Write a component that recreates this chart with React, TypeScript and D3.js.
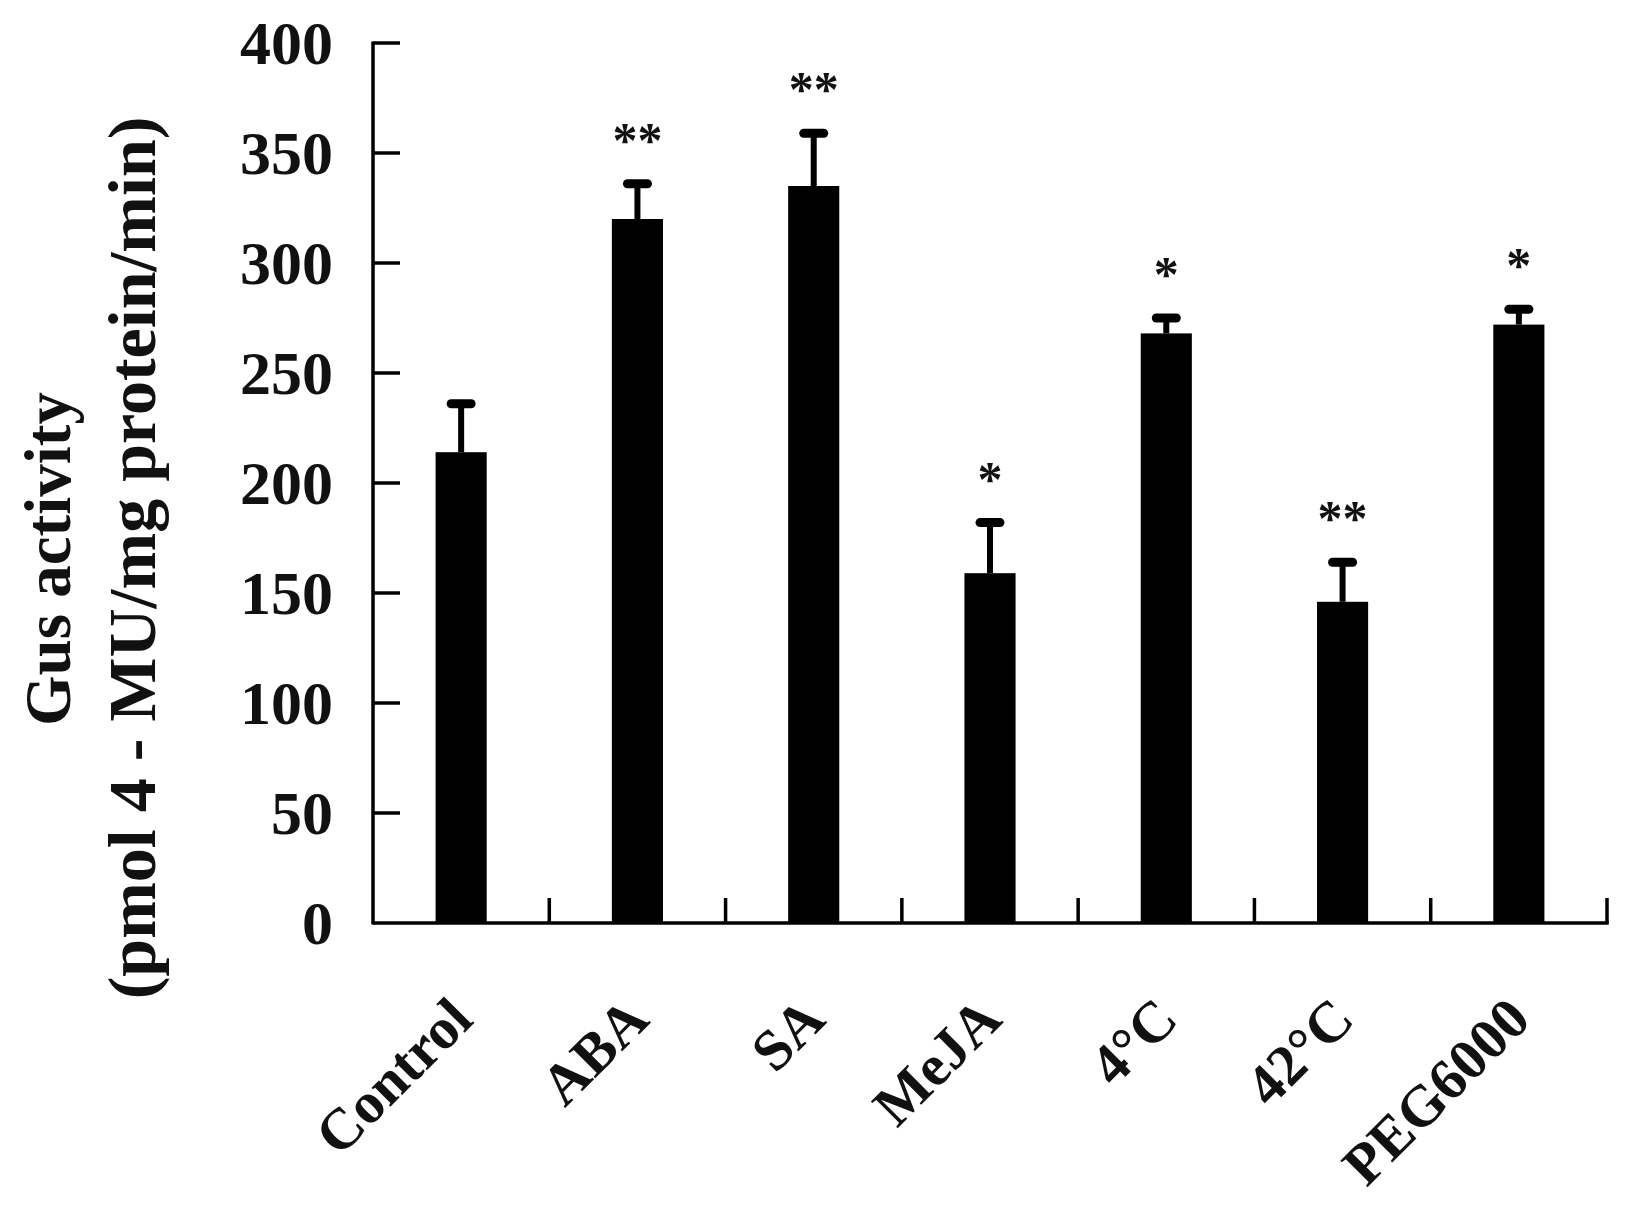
import React from 'react';
import * as d3 from 'd3';

const categories = ['Control', 'ABA', 'SA', 'MeJA', '4°C', '42°C', 'PEG6000'];
const means = [214, 320, 335, 159, 268, 146, 272];
const errors = [22, 16, 24, 23, 7, 18, 7];
const significance = ['', '**', '**', '*', '*', '**', '*'];
const yTicks = [0, 50, 100, 150, 200, 250, 300, 350, 400];
const yLabelLine1 = 'Gus activity';
const yLabelLine2 = '(pmol 4 - MU/mg protein/min)';

const FONT = '"Liberation Serif", "Times New Roman", serif';

export default function App() {
  React.useEffect(() => {
    document.body.style.margin = '0';
  }, []);
  const W = 1639;
  const H = 1215;
  const xLeft = 373;
  const xRight = 1607;
  const yTop = 43;
  const yBot = 923;

  const x = d3.scaleBand<string>().domain(categories).range([xLeft, xRight]).padding(0);
  const y = d3.scaleLinear().domain([0, 400]).range([yBot, yTop]);
  const barW = x.bandwidth() * 0.29;
  const cx = (c: string) => (x(c) as number) + x.bandwidth() / 2;

  return (
    <svg width={W} height={H} style={{ display: 'block', background: '#fff' }} fontFamily={FONT} fontWeight="bold">
      {/* bars */}
      {categories.map((c, i) => (
        <rect key={'b' + c} x={cx(c) - barW / 2} y={y(means[i])} width={barW} height={yBot - y(means[i])} fill="#000" />
      ))}
      {/* error bars */}
      {categories.map((c, i) => (
        <g key={'e' + c}>
          <line x1={cx(c)} x2={cx(c)} y1={y(means[i])} y2={y(means[i] + errors[i])} stroke="#000" strokeWidth={6} />
          <line x1={cx(c) - 10} x2={cx(c) + 10} y1={y(means[i] + errors[i])} y2={y(means[i] + errors[i])} stroke="#000" strokeWidth={9} strokeLinecap="round" />
        </g>
      ))}
      {/* significance */}
      {categories.map((c, i) => (
        <text key={'s' + c} x={cx(c)} y={y(means[i] + errors[i]) - 50 + 23} fontSize={50} textAnchor="middle" fill="#111">
          {significance[i]}
        </text>
      ))}
      {/* y axis */}
      <line x1={xLeft} x2={xLeft} y1={yTop - 1.5} y2={yBot + 1.5} stroke="#000" strokeWidth={3.5} />
      {yTicks.map((t) => (
        <g key={'yt' + t}>
          {t > 0 && <line x1={xLeft} x2={xLeft + 27} y1={y(t)} y2={y(t)} stroke="#000" strokeWidth={3.5} />}
          <text x={333} y={y(t) + 21} fontSize={62} textAnchor="end" fill="#111">
            {t}
          </text>
        </g>
      ))}
      {/* x axis */}
      <line x1={xLeft} x2={xRight + 1.75} y1={yBot} y2={yBot} stroke="#000" strokeWidth={3.5} />
      {categories.map((c) => (
        <line key={'xt' + c} x1={(x(c) as number) + x.bandwidth()} x2={(x(c) as number) + x.bandwidth()} y1={yBot} y2={yBot - 25} stroke="#000" strokeWidth={3.5} />
      ))}
      {categories.map((c) => (
        <text key={'xl' + c} transform={`translate(${cx(c) + 14},${1022}) rotate(-45)`} fontSize={58} textAnchor="end" fill="#111">
          {c}
        </text>
      ))}
      {/* y label */}
      <text transform={`translate(70,559) rotate(-90)`} fontSize={65} textAnchor="middle" fill="#111">
        {yLabelLine1}
      </text>
      <text transform={`translate(155,558) rotate(-90)`} fontSize={68} textAnchor="middle" fill="#111">
        {yLabelLine2}
      </text>
    </svg>
  );
}
